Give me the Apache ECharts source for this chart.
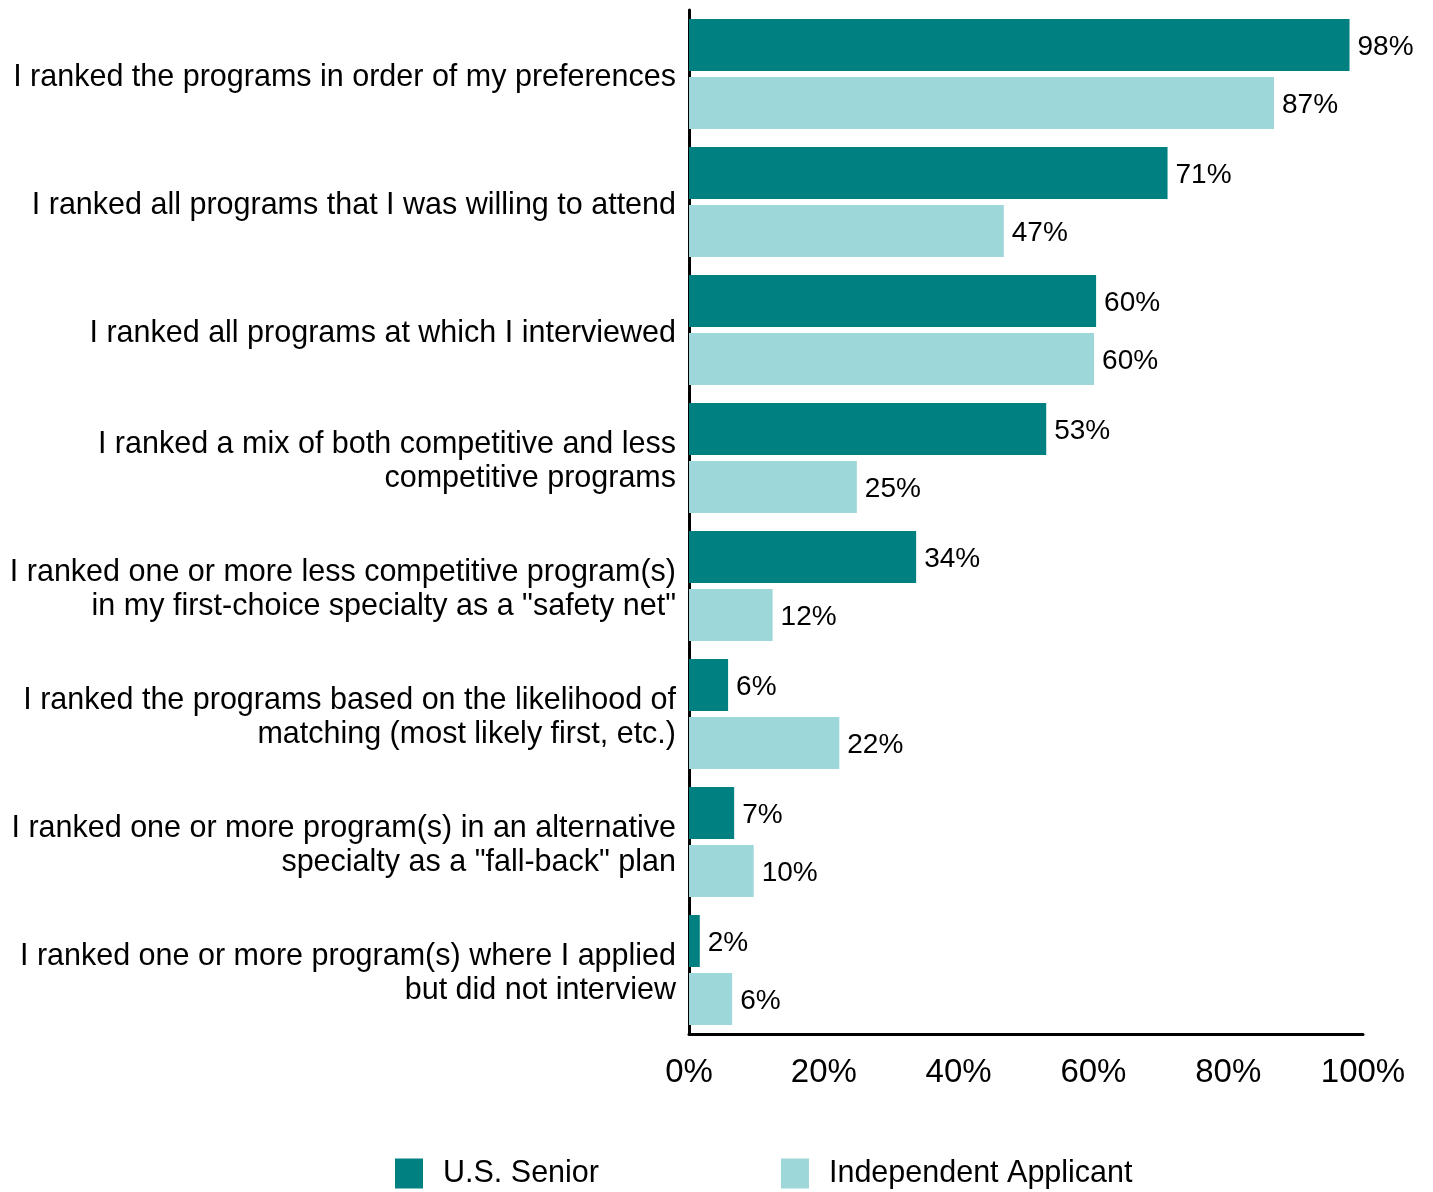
<!DOCTYPE html>
<html>
<head>
<meta charset="utf-8">
<script src="https://cdn.jsdelivr.net/npm/echarts@6/dist/echarts.min.js"></script>
<style>
html,body{margin:0;padding:0;background:#fff;}
#chart{width:1433px;height:1192px;}
</style>
</head>
<body>
<div id="chart"></div>
<script>
const categories = [
  "I ranked the programs in order of my preferences",
  "I ranked all programs that I was willing to attend",
  "I ranked all programs at which I interviewed",
  "I ranked a mix of both competitive and less\ncompetitive programs",
  "I ranked one or more less competitive program(s)\nin my first-choice specialty as a \"safety net\"",
  "I ranked the programs based on the likelihood of\nmatching (most likely first, etc.)",
  "I ranked one or more program(s) in an alternative\nspecialty as a \"fall-back\" plan",
  "I ranked one or more program(s) where I applied\nbut did not interview"
];
const seriesNames = ["U.S. Senior", "Independent Applicant"];
const usSenior = [98, 71, 60.4, 53, 33.7, 5.8, 6.7, 1.6];
const independentApplicant = [86.8, 46.7, 60.1, 24.9, 12.4, 22.3, 9.6, 6.4];
const xTicks = [0, 20, 40, 60, 80, 100];

const FONT = "'Liberation Sans', Arial, sans-serif";
const chart = echarts.init(document.getElementById('chart'));
const labelCfg = {
  show: true, position: 'right', distance: 8, offset: [0, 2],
  color: '#000', fontSize: 28, fontFamily: FONT,
  formatter: p => Math.round(p.value) + '%'
};
chart.setOption({
  animation: false,
  textStyle: { fontFamily: FONT },
  grid: { left: 689, right: 70, top: 10, bottom: 158, containLabel: false },
  legend: {
    data: seriesNames,
    left: 395, top: 1158, padding: 0,
    itemWidth: 28, itemHeight: 30, itemGap: 182,
    icon: 'rect',
    textStyle: { fontSize: 30.5, color: '#000', fontFamily: FONT, padding: [0, 0, 0, 15] }
  },
  xAxis: {
    type: 'value', min: xTicks[0], max: xTicks[xTicks.length - 1], interval: 20,
    axisLine: { show: true, lineStyle: { color: '#000', width: 3 } },
    axisTick: { show: false },
    splitLine: { show: false },
    axisLabel: { fontSize: 33, color: '#000', fontFamily: FONT, margin: 22, formatter: v => v + '%' }
  },
  yAxis: {
    type: 'category', data: categories, inverse: true,
    axisLine: { show: true, lineStyle: { color: '#000', width: 3 } },
    axisTick: { show: false },
    axisLabel: {
      fontSize: 30.5, color: '#000', fontFamily: FONT, margin: 13, lineHeight: 34, align: 'right',
      formatter: v => v.split('\n').map(l => '{a|' + l + '}').join('\n'),
      rich: {
        a: { fontSize: 30.5, color: '#000', fontFamily: FONT, lineHeight: 34, padding: [8, 0, 0, 0], align: 'right' }
      }
    }
  },
  series: [
    { name: seriesNames[0], type: 'bar', data: usSenior, barWidth: 52, barGap: '11.5%',
      itemStyle: { color: '#008080' }, label: labelCfg },
    { name: seriesNames[1], type: 'bar', data: independentApplicant, barWidth: 52,
      itemStyle: { color: '#9ed7d9' }, label: labelCfg }
  ]
});
</script>
</body>
</html>
